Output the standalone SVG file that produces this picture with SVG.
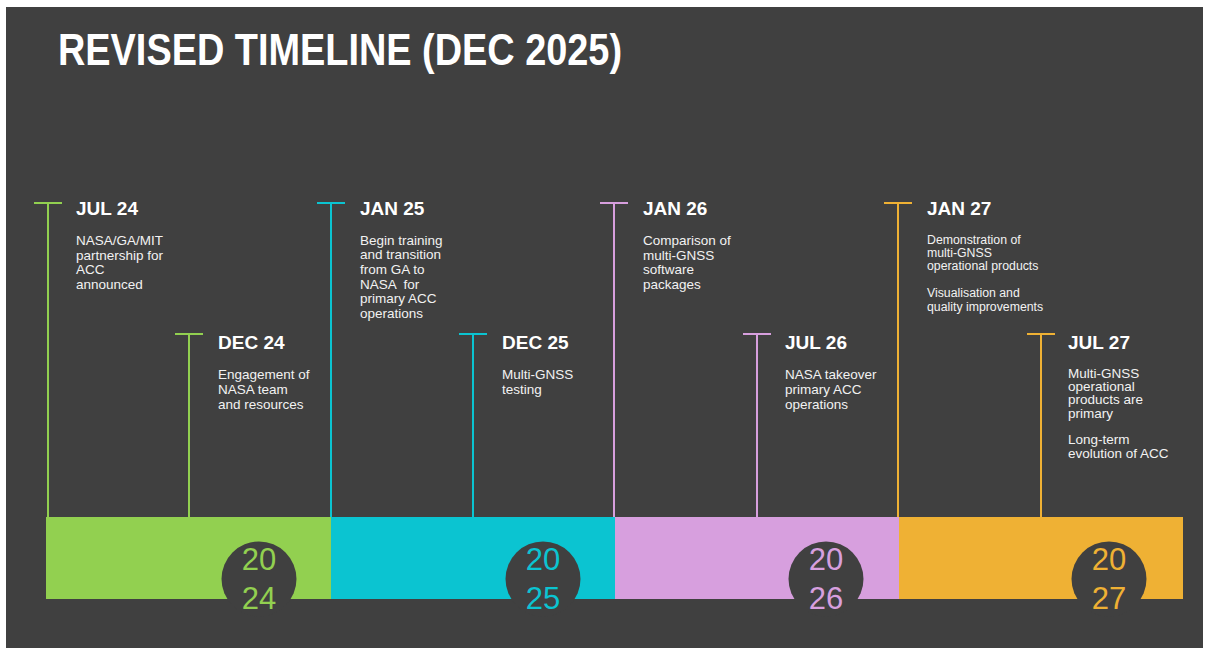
<svg xmlns="http://www.w3.org/2000/svg" width="1205" height="653" viewBox="0 0 1205 653">
<style>
.hd{font-family:"Liberation Sans",Arial,sans-serif;font-weight:bold;font-size:19px;fill:#FFFFFF}
.ds{font-family:"Liberation Sans",Arial,sans-serif;font-size:13.5px;fill:#F2F2F2}
.ds2{font-family:"Liberation Sans",Arial,sans-serif;font-size:12.3px;fill:#F2F2F2}
.yr{font-family:"Liberation Sans",Arial,sans-serif;font-size:31px;text-anchor:middle}
.g{stroke:#92D050}.c{stroke:#0BC4D1}.p{stroke:#D79FDE}.o{stroke:#EFB134}
.ln{stroke-width:2;fill:none}
</style>
<rect x="0" y="0" width="1205" height="653" fill="#FFFFFF"/>
<rect x="6" y="7" width="1197" height="641" fill="#404040"/>
<text x="58" y="65" font-family="'Liberation Sans',Arial,sans-serif" font-weight="bold" font-size="45" fill="#FFFFFF" textLength="564" lengthAdjust="spacingAndGlyphs">REVISED TIMELINE (DEC 2025)</text>

<g id="connectors">
<path class="ln g" d="M48 203V517M34 203H62"/>
<path class="ln g" d="M189 334V517M175 334H203"/>
<path class="ln c" d="M331 203V517M317 203H345"/>
<path class="ln c" d="M473 334V517M459 334H487"/>
<path class="ln p" d="M614 203V517M600 203H628"/>
<path class="ln p" d="M757 334V517M743 334H771"/>
<path class="ln o" d="M898 203V517M884 203H912"/>
<path class="ln o" d="M1041 334V517M1027 334H1055"/>
</g>

<g id="year2024">
<rect x="46" y="517" width="285" height="82" fill="#92D050"/>
<circle cx="259" cy="579" r="37.5" fill="#404040"/>
<text class="yr" x="259" y="570" fill="#92D050">20</text>
<text class="yr" x="259" y="609" fill="#92D050">24</text>
</g>
<g id="year2025">
<rect x="331" y="517" width="284" height="82" fill="#0BC4D1"/>
<circle cx="543" cy="579" r="37.5" fill="#404040"/>
<text class="yr" x="543" y="570" fill="#0BC4D1">20</text>
<text class="yr" x="543" y="609" fill="#0BC4D1">25</text>
</g>
<g id="year2026">
<rect x="615" y="517" width="284" height="82" fill="#D79FDE"/>
<circle cx="826" cy="579" r="37.5" fill="#404040"/>
<text class="yr" x="826" y="570" fill="#D79FDE">20</text>
<text class="yr" x="826" y="609" fill="#D79FDE">26</text>
</g>
<g id="year2027">
<rect x="899" y="517" width="284" height="82" fill="#EFB134"/>
<circle cx="1109" cy="579" r="37.5" fill="#404040"/>
<text class="yr" x="1109" y="570" fill="#EFB134">20</text>
<text class="yr" x="1109" y="609" fill="#EFB134">27</text>
</g>

<g id="jul24">
<text class="hd" x="76" y="215">JUL 24</text>
<text class="ds" x="76" y="245">NASA/GA/MIT</text>
<text class="ds" x="76" y="259.6">partnership for</text>
<text class="ds" x="76" y="274.2">ACC</text>
<text class="ds" x="76" y="288.8">announced</text>
</g>
<g id="dec24">
<text class="hd" x="218" y="349">DEC 24</text>
<text class="ds" x="218" y="379.3">Engagement of</text>
<text class="ds" x="218" y="394">NASA team</text>
<text class="ds" x="218" y="408.7">and resources</text>
</g>
<g id="jan25">
<text class="hd" x="360" y="215">JAN 25</text>
<text class="ds" x="360" y="244.5">Begin training</text>
<text class="ds" x="360" y="259.2">and transition</text>
<text class="ds" x="360" y="273.9">from GA to</text>
<text class="ds" x="360" y="288.6" xml:space="preserve">NASA  for</text>
<text class="ds" x="360" y="303.3">primary ACC</text>
<text class="ds" x="360" y="318">operations</text>
</g>
<g id="dec25">
<text class="hd" x="502" y="349">DEC 25</text>
<text class="ds" x="502" y="379.3">Multi-GNSS</text>
<text class="ds" x="502" y="394">testing</text>
</g>
<g id="jan26">
<text class="hd" x="643" y="215">JAN 26</text>
<text class="ds" x="643" y="245">Comparison of</text>
<text class="ds" x="643" y="259.6">multi-GNSS</text>
<text class="ds" x="643" y="274.2">software</text>
<text class="ds" x="643" y="288.8">packages</text>
</g>
<g id="jul26">
<text class="hd" x="785" y="349">JUL 26</text>
<text class="ds" x="785" y="379.3">NASA takeover</text>
<text class="ds" x="785" y="394">primary ACC</text>
<text class="ds" x="785" y="408.7">operations</text>
</g>
<g id="jan27">
<text class="hd" x="927" y="215">JAN 27</text>
<text class="ds2" x="927" y="243.5">Demonstration of</text>
<text class="ds2" x="927" y="256.9">multi-GNSS</text>
<text class="ds2" x="927" y="270.3">operational products</text>
<text class="ds2" x="927" y="297.3">Visualisation and</text>
<text class="ds2" x="927" y="310.7">quality improvements</text>
</g>
<g id="jul27">
<text class="hd" x="1068" y="349">JUL 27</text>
<text class="ds" x="1068" y="377.7">Multi-GNSS</text>
<text class="ds" x="1068" y="391">operational</text>
<text class="ds" x="1068" y="404.3">products are</text>
<text class="ds" x="1068" y="417.7">primary</text>
<text class="ds" x="1068" y="444.3">Long-term</text>
<text class="ds" x="1068" y="457.7">evolution of ACC</text>
</g>
</svg>
